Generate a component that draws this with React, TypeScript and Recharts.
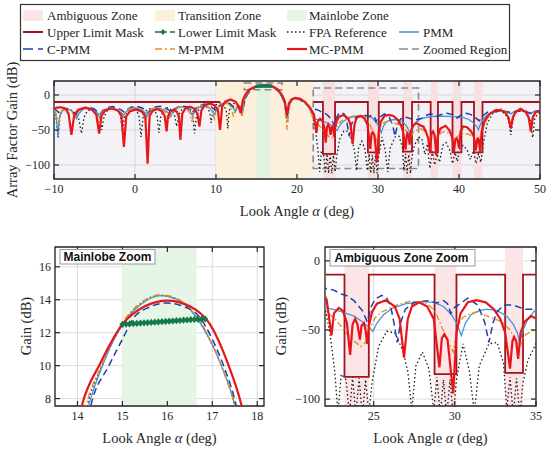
import React from 'react';
import { LineChart, Line, XAxis, YAxis, CartesianGrid, ReferenceArea } from 'recharts';

type P = [number, number | null];

// ---------------- axes ----------------
const mainXTicks = [-10, 0, 10, 20, 30, 40, 50];
const mainYTicks = [-100, -50, 0];
const mainXDomain: [number, number] = [-10, 50];
const mainYDomain: [number, number] = [-120, 20];

const lobeXTicks = [14, 15, 16, 17, 18];
const lobeYTicks = [8, 10, 12, 14, 16];
const lobeXDomain: [number, number] = [13.5, 18.15];
const lobeYDomain: [number, number] = [7.55, 17.2];

const ambXTicks = [25, 30, 35];
const ambYTicks = [-100, -50, 0];
const ambXDomain: [number, number] = [22, 35];
const ambYDomain: [number, number] = [-105, 10];

// ---------------- zones ----------------
const transitionZone: [number, number] = [10, 22];
const mainlobeZone: [number, number] = [15, 16.65];
const ambiguousZones: [number, number][] = [
  [23.2, 24.7], [28.75, 30.1], [33.1, 34.2], [36.5, 37.4], [39.2, 40.3], [41.85, 42.9],
];

// ---------------- series ----------------
const upperMask: P[] = [
  [-10, -10], [10.5, -10], [10.5, null], [22.05, null], [22.05, -10], [23.2, -10], [23.2, -84], [24.7, -84], [24.7, -10],
  [28.75, -10], [28.75, -82], [30.1, -82], [30.1, -10], [33.1, -10], [33.1, -81], [34.2, -81], [34.2, -10],
  [36.5, -10], [36.5, -82], [37.4, -82], [37.4, -10], [39.2, -10], [39.2, -82], [40.3, -82], [40.3, -10],
  [41.85, -10], [41.85, -82], [42.9, -82], [42.9, -10], [50, -10],
];

const lowerMask: P[] = [
  [15.0, 12.5], [15.08, 12.52], [15.16, 12.53], [15.24, 12.55], [15.32, 12.56], [15.4, 12.58], [15.48, 12.59],
  [15.56, 12.61], [15.64, 12.62], [15.72, 12.64], [15.8, 12.65], [15.88, 12.67], [15.96, 12.68], [16.04, 12.7],
  [16.12, 12.71], [16.2, 12.73], [16.28, 12.74], [16.36, 12.76], [16.44, 12.77], [16.52, 12.79], [16.6, 12.8],
  [16.68, 12.81], [16.76, 12.82], [16.84, 12.83],
];

const mcPmm: P[] = [
  [-10, -20], [-9.6, -18], [-9.1, -17.5], [-8.55, -19.5], [-8.2, -27], [-7.85, -57],
  [-7.5, -28], [-7.0, -21], [-6.15, -18], [-5.3, -21], [-4.78, -28], [-4.43, -55],
  [-4.12, -29], [-3.67, -22], [-2.9, -19], [-2.13, -22], [-1.68, -29], [-1.37, -74],
  [-1.08, -30.5], [-0.64, -23.5], [0.1, -20.5], [0.83, -23.5], [1.27, -30.5], [1.56, -98],
  [1.8, -30], [2.15, -23], [2.73, -20], [3.3, -23], [3.67, -30], [3.9, -52],
  [4.07, -31], [4.33, -24], [4.75, -21], [5.17, -24], [5.43, -31], [5.6, -64],
  [5.84, -26.7], [6.19, -19.7], [6.78, -16.7], [7.36, -19.7], [7.71, -26.7], [7.95, -45],
  [8.2, -22], [8.59, -15], [9.22, -12], [9.86, -15], [10.24, -22], [10.5, -50],
  [10.76, -16.5], [11.14, -9.5], [11.78, -6.5], [12.41, -9.5], [12.8, -16.5], [13.05, -26],
  [13.3, -8], [13.55, -1], [13.8, 3.5], [14.1, 7.6], [14.5, 10.1], [15.0, 12.5], [15.5, 13.6], [16.0, 13.95],
  [16.5, 13.6], [16.95, 12.5], [17.35, 10.1], [17.65, 7.6], [17.95, 3.5], [18.2, -1], [18.5, -9], [18.76, -28],
  [19.0, -12], [19.35, -6], [19.8, -4], [20.4, -5.5], [21.0, -10], [21.6, -18], [22.1, -28], [22.4, -54],
  [22.55, -38], [22.85, -34], [23.1, -36], [23.35, -45], [23.55, -68], [23.7, -46], [23.85, -42], [24.0, -46],
  [24.15, -57], [24.25, -47], [24.4, -45], [24.5, -50], [24.6, -60], [24.72, -46], [24.9, -37], [25.2, -31],
  [25.75, -28.5], [26.3, -33], [26.6, -42], [26.87, -70], [27.1, -42], [27.35, -33], [27.8, -30], [28.3, -33],
  [28.7, -42], [29.05, -77], [29.2, -56], [29.35, -53], [29.55, -57], [29.9, -96], [30.1, -52], [30.35, -38],
  [30.8, -30], [31.33, -28.5], [31.9, -30], [32.4, -35], [32.8, -42], [33.1, -52], [33.4, -78], [33.55, -58],
  [33.65, -55], [33.78, -58], [33.9, -71], [34.05, -52], [34.3, -44], [34.7, -40], [35.06, -42],
  [35.3, -44], [35.6, -45], [35.9, -52], [36.2, -62], [36.42, -83], [36.6, -55], [36.8, -52], [37.0, -58],
  [37.2, -86], [37.4, -58], [37.7, -48], [38.35, -44], [38.8, -50], [39.15, -60], [39.38, -81], [39.55, -63],
  [39.7, -62], [39.85, -65], [40.0, -76], [40.2, -52], [40.5, -45], [41.0, -46], [41.5, -52], [41.85, -60],
  [42.07, -79], [42.25, -63], [42.35, -62], [42.45, -64], [42.6, -81], [42.8, -52], [43.2, -36], [43.8, -27],
  [44.5, -22], [45.16, -21.5], [45.7, -25], [46.1, -32], [46.4, -48], [46.65, -32], [47.0, -24], [47.6, -20.5],
  [48.2, -24], [48.6, -32], [48.87, -52], [49.1, -32], [49.4, -25], [49.7, -23.5], [50, -24],
];

const pmm: P[] = [
  [-10, -22], [-9.75, -29], [-9.5, -58], [-9.3, -30], [-9.0, -22], [-8.5, -19.5], [-7.9, -22], [-7.5, -27],
  [-7.2, -34], [-6.9, -26], [-6.4, -20], [-5.7, -18.5], [-5.0, -21], [-4.6, -26], [-4.35, -33], [-4.05, -25],
  [-3.5, -20], [-2.9, -19], [-2.2, -21.5], [-1.7, -25], [-1.4, -29], [-1.1, -24], [-0.5, -19.5], [0.1, -18.5],
  [0.8, -21], [1.2, -25], [1.5, -30], [1.8, -24], [2.4, -19.5], [3.0, -19], [3.6, -21], [4.05, -25],
  [4.4, -31], [4.7, -24], [5.3, -18.5], [5.9, -17], [6.5, -19.5], [6.85, -24], [7.1, -30], [7.4, -23],
  [7.9, -17.5], [8.5, -16], [9.1, -18], [9.5, -22], [9.8, -28], [10.1, -21], [10.6, -15], [11.2, -11],
  [11.7, -12], [12.1, -18], [12.4, -24], [12.7, -17], [13.0, -18], [13.25, -28], [13.5, -8], [13.75, 0],
  [14.0, 4.5], [14.25, 7.6], [14.5, 9.6], [15.0, 12.5], [15.4, 13.7], [15.85, 14.25], [16.3, 13.9], [16.75, 12.5],
  [17.2, 10.0], [17.5, 7.6], [17.8, 3.5], [18.1, -2], [18.45, -12], [18.8, -35], [19.1, -13], [19.4, -7],
  [19.85, -4.5], [20.4, -6], [21.0, -11], [21.5, -18], [21.85, -26], [22.0, -33.5], [22.3, -34.5], [22.8, -36],
  [23.3, -38], [23.8, -40], [24.3, -44], [24.7, -48], [24.95, -51], [25.2, -45], [25.6, -39], [26.2, -34],
  [27.0, -31], [28.0, -29.5], [28.7, -30], [29.3, -33], [29.8, -39], [30.15, -46], [30.4, -54], [30.65, -45],
  [31.0, -39], [31.5, -36], [32.0, -35], [32.6, -36], [33.2, -40], [33.6, -46], [33.85, -52], [34.0, -59],
  [34.2, -50], [34.5, -42], [35.0, -35], [35.5, -33], [36.5, -31], [37.5, -30], [38.5, -30.5], [39.5, -31],
  [40.5, -32], [41.2, -35], [41.8, -40], [42.2, -45], [42.4, -50], [42.6, -43], [42.9, -36], [43.5, -28],
  [44.3, -24], [45.2, -22], [45.9, -24], [46.4, -27], [46.9, -23], [47.7, -21.5], [48.3, -23], [48.8, -27],
  [49.3, -23], [50, -22],
];

const cPmm: P[] = [
  [-10, -20], [-9.7, -22], [-9.4, -25], [-9.1, -21], [-8.7, -19], [-8.2, -20.5], [-7.7, -24], [-7.3, -28],
  [-6.95, -23], [-6.5, -19.5], [-5.8, -17], [-5.1, -19.5], [-4.65, -23], [-4.3, -27], [-3.95, -22], [-3.4, -18],
  [-2.8, -16.5], [-2.1, -19], [-1.6, -22], [-1.3, -25], [-1.0, -21], [-0.5, -17.5], [0.2, -16], [0.9, -18.5],
  [1.3, -22], [1.6, -26], [1.9, -21], [2.5, -17], [3.1, -16], [3.7, -18], [4.15, -21.5], [4.5, -25],
  [4.85, -20], [5.3, -17], [5.9, -15.5], [6.5, -17.5], [6.9, -21], [7.2, -24], [7.5, -19], [8.0, -15],
  [8.6, -13], [9.2, -15], [9.6, -18.5], [9.9, -22], [10.2, -17], [10.7, -13], [11.2, -11], [11.7, -12.5],
  [12.1, -16], [12.4, -20], [12.7, -16], [13.0, -17], [13.3, -22], [13.6, -6], [13.9, 1], [14.3, 7.6],
  [14.7, 10.0], [15.0, 11.6], [15.25, 12.9], [15.6, 13.55], [15.97, 13.8], [16.35, 13.6], [16.7, 13.0], [17.0, 11.6],
  [17.25, 10.0], [17.53, 7.6], [17.85, 3], [18.15, -2], [18.45, -10], [18.75, -30], [19.05, -12], [19.4, -6.5],
  [19.85, -5], [20.4, -7], [21.0, -12], [21.5, -17], [21.8, -20], [22.0, -19.9], [22.5, -21], [23.0, -24],
  [23.35, -25.2], [23.8, -29], [24.3, -36], [24.6, -44], [24.85, -33], [25.1, -27.6], [25.5, -25], [25.8, -27],
  [26.05, -33], [26.25, -45], [26.45, -59], [26.65, -45], [26.95, -35], [27.5, -30], [28.3, -28.8], [28.9, -30.5],
  [29.3, -28.8], [29.55, -31], [29.75, -38], [29.95, -34], [30.2, -32], [30.8, -27], [31.4, -32], [31.7, -40],
  [31.85, -45], [32.1, -59], [32.35, -45], [32.6, -37], [33.0, -32], [33.6, -32], [34.3, -35], [35.0, -35],
  [35.5, -33], [36.0, -29], [36.5, -27], [36.9, -28], [37.3, -31], [37.7, -28], [38.5, -26], [39.2, -28],
  [39.8, -33], [40.3, -28], [40.9, -26], [41.5, -28], [42.1, -33], [42.5, -37], [42.9, -30], [43.5, -24.5],
  [44.5, -23.5], [45.5, -23], [46.4, -25], [47.3, -23], [48.2, -24], [48.9, -26], [49.5, -23.5], [50, -23],
];

const mPmm: P[] = [
  [-10, -21], [-9.75, -26], [-9.45, -40], [-9.2, -27], [-8.8, -20.5], [-8.3, -20], [-7.8, -23.5], [-7.45, -32],
  [-7.1, -25], [-6.6, -19.5], [-6.0, -18], [-5.3, -21], [-4.8, -27], [-4.5, -38], [-4.2, -27], [-3.7, -20],
  [-3.1, -18], [-2.4, -20.5], [-1.85, -25], [-1.5, -32], [-1.2, -25], [-0.7, -19.5], [-0.1, -18], [0.6, -21],
  [1.05, -27], [1.3, -36], [1.55, -26], [2.1, -19.5], [2.7, -18], [3.4, -21], [3.85, -26], [4.2, -34],
  [4.5, -25], [5.0, -19], [5.6, -16.5], [6.3, -19], [6.75, -25], [7.0, -38], [7.3, -24], [7.8, -17],
  [8.4, -14], [9.0, -16.5], [9.5, -23], [9.8, -34], [10.1, -21], [10.6, -13.5], [11.1, -11], [11.6, -13.5],
  [11.95, -21], [12.15, -31], [12.4, -20], [12.8, -14], [13.0, -16], [13.2, -30], [13.45, -10], [13.7, -1],
  [13.95, 3.5], [14.2, 7.6], [14.5, 9.8], [15.0, 12.6], [15.4, 13.8], [15.85, 14.3], [16.3, 13.95], [16.75, 12.6],
  [17.2, 10.0], [17.5, 7.6], [17.85, 3], [18.15, -2], [18.45, -11], [18.76, -50], [19.05, -14], [19.4, -7],
  [19.85, -4.5], [20.4, -6], [21.0, -11], [21.5, -19], [21.8, -27], [22.1, -37], [22.7, -43], [23.3, -52],
  [23.9, -59], [24.2, -62], [24.5, -59], [24.8, -48], [25.1, -41], [25.5, -37], [26.4, -32], [27.2, -29.3],
  [28.1, -30], [28.5, -33], [28.8, -37], [29.2, -48], [29.6, -59], [29.9, -66], [30.2, -47], [30.5, -41],
  [30.8, -39], [31.3, -37], [32.0, -40], [32.9, -44], [33.4, -50], [33.8, -59], [34.0, -62], [34.3, -54],
  [34.7, -51], [35.0, -49.5], [35.3, -48], [35.8, -52], [36.1, -57], [36.35, -62], [36.6, -56], [36.9, -55],
  [37.1, -59], [37.3, -66], [37.55, -57], [37.9, -53], [38.4, -52], [38.9, -56], [39.2, -60], [39.4, -68],
  [39.65, -61], [40.0, -58], [40.5, -55], [41.2, -56], [41.8, -61], [42.1, -64], [42.3, -68], [42.6, -60],
  [42.9, -50], [43.2, -40], [43.8, -28], [44.5, -21], [45.2, -19.5], [45.8, -24], [46.15, -31], [46.4, -45],
  [46.65, -31], [47.0, -23], [47.6, -18.5], [48.2, -22], [48.6, -30], [48.9, -55], [49.15, -32], [49.5, -25],
  [50, -24],
];

const fpaRef: P[] = [
  [-10, -22], [-9.8, -27], [-9.5, -61], [-9.25, -29], [-8.9, -22], [-8.4, -20], [-7.8, -22], [-7.3, -27],
  [-6.95, -34], [-6.6, -55], [-6.3, -32], [-5.9, -23], [-5.3, -19.5], [-4.8, -23], [-4.4, -31], [-4.1, -50],
  [-3.8, -30], [-3.4, -22], [-2.8, -19], [-2.2, -21.5], [-1.8, -29], [-1.55, -52], [-1.3, -30], [-0.9, -22],
  [-0.3, -19], [0.2, -22], [0.5, -31], [0.75, -60], [1.0, -31], [1.4, -22], [2.0, -19], [2.45, -22.5],
  [2.75, -31], [2.95, -54], [3.2, -30], [3.6, -21], [4.1, -18], [4.6, -22], [4.9, -30], [5.15, -45],
  [5.4, -29], [5.8, -20], [6.4, -16], [6.85, -21], [7.15, -30], [7.35, -55], [7.6, -28], [8.0, -18],
  [8.6, -14], [9.0, -18.5], [9.25, -26], [9.4, -40], [9.6, -24], [10.0, -14], [10.6, -10.5], [11.0, -15],
  [11.3, -25], [11.45, -48], [11.65, -22], [12.0, -13], [12.5, -11], [12.9, -17], [13.2, -30], [13.45, -10],
  [13.7, -1], [13.95, 3.5], [14.22, 7.6], [14.5, 9.7], [15.0, 12.5], [15.4, 13.75], [15.85, 14.25], [16.3, 13.9],
  [16.75, 12.5], [17.2, 10.0], [17.5, 7.6], [17.85, 3], [18.15, -2], [18.45, -11], [18.8, -40], [19.1, -13],
  [19.4, -7], [19.85, -4.5], [20.4, -6], [21.0, -11], [21.5, -18], [21.8, -26], [22.0, -34], [22.3, -52],
  [22.6, -80], [22.8, -110], [23.0, -82], [23.3, -86], [23.5, -112], [23.7, -84], [23.9, -112], [24.1, -85],
  [24.3, -112], [24.5, -86], [24.7, -110], [24.9, -88], [25.3, -62], [25.8, -51], [26.3, -52], [26.8, -65],
  [27.1, -80], [27.35, -108], [27.6, -76], [28.0, -66], [28.4, -78], [28.7, -108], [28.9, -84], [29.1, -112],
  [29.3, -86], [29.5, -112], [29.7, -86], [29.9, -112], [30.1, -86], [30.5, -60], [30.9, -80], [31.2, -110],
  [31.5, -76], [32.1, -60], [32.6, -59], [33.0, -74], [33.2, -108], [33.4, -84], [33.6, -112], [33.8, -85],
  [34.0, -112], [34.2, -88], [34.5, -72], [35.0, -60], [35.4, -62], [35.8, -85], [36.1, -70], [36.4, -105],
  [36.7, -80], [37.0, -100], [37.3, -84], [37.6, -96], [38.0, -72], [38.4, -68], [38.9, -80], [39.2, -98],
  [39.5, -82], [39.8, -95], [40.1, -76], [40.5, -72], [41.0, -78], [41.4, -92], [41.8, -80], [42.1, -98],
  [42.4, -84], [42.7, -96], [43.0, -70], [43.5, -40], [44.2, -26], [45.0, -22], [45.7, -27], [46.1, -35],
  [46.4, -57], [46.7, -33], [47.0, -25], [47.6, -21], [48.3, -26], [48.8, -36], [49.1, -61], [49.35, -34],
  [49.7, -27], [50, -25],
];

// ---------------- helpers ----------------
const rows = (pts: P[]) => pts.map(([x, y]) => ({ x, y }));
const SERIF = "'Liberation Serif', 'Times New Roman', serif";
const SANS = "'Liberation Sans', Arial, sans-serif";
const INK = '#262626';
const fmt = (v: number) => (v < 0 ? '\u2212' + Math.abs(v) : String(v));

const C = {
  mask: '#a3141e',
  lower: '#13784a',
  fpa: '#1a1a1a',
  pmm: '#4595d8',
  cpmm: '#1f3fa6',
  mpmm: '#e88d1e',
  mc: '#e8161b',
  zoom: '#8a8a8a',
  bg: '#f3f3f7',
  trans: '#fcf0dc',
  lobe: '#e2f2e1',
  amb: '#f8dfe1',
  ambLight: '#fbe5e6',
  lobeLight: '#e7f5e6',
};

function makeXTick(top: number, dy: number) {
  return (props: any) => {
    const { x, y, payload } = props;
    return (
      <g>
        <line x1={x} x2={x} y1={y} y2={y - 5} stroke={INK} strokeWidth={1.2} />
        <line x1={x} x2={x} y1={top} y2={top + 5} stroke={INK} strokeWidth={1.2} />
        <text x={x} y={y + dy} textAnchor="middle" fontFamily={SERIF} fontSize={12} fill={INK}>
          {fmt(payload.value)}
        </text>
      </g>
    );
  };
}

function makeYTick(right: number, dx: number) {
  return (props: any) => {
    const { x, y, payload } = props;
    return (
      <g>
        <line x1={x} x2={x + 5} y1={y} y2={y} stroke={INK} strokeWidth={1.2} />
        <line x1={right} x2={right - 5} y1={y} y2={y} stroke={INK} strokeWidth={1.2} />
        <text x={x - dx} y={y + 4} textAnchor="end" fontFamily={SERIF} fontSize={12} fill={INK}>
          {fmt(payload.value)}
        </text>
      </g>
    );
  };
}

function makeDiamond(r: number) {
  return (props: any) => {
    const { cx, cy, index } = props;
    if (cx == null || cy == null) return <g key={'d' + index} />;
    return (
      <polygon
        key={'d' + index}
        points={`${cx},${cy - r} ${cx + r * 0.85},${cy} ${cx},${cy + r} ${cx - r * 0.85},${cy}`}
        fill={C.lower}
      />
    );
  };
}

function seriesLines(curve: 'linear' | 'monotone', diamond: number) {
  const base = { dataKey: 'y', dot: false as const, activeDot: false as const, isAnimationActive: false, type: curve };
  return [
    <Line key="fpa" {...base} data={rows(fpaRef)} stroke={C.fpa} strokeWidth={1.3} strokeDasharray="1.5 2.5" />,
    <Line key="mask" {...base} type="linear" data={rows(upperMask)} stroke={C.mask} strokeWidth={1.8} />,
    <Line key="pmm" {...base} data={rows(pmm)} stroke={C.pmm} strokeWidth={1.3} />,
    <Line key="cpmm" {...base} data={rows(cPmm)} stroke={C.cpmm} strokeWidth={1.5} strokeDasharray="7 4" />,
    <Line key="mpmm" {...base} data={rows(mPmm)} stroke={C.mpmm} strokeWidth={1.4} strokeDasharray="6 2.5 1.5 2.5" />,
    <Line key="lower" {...base} type="linear" data={rows(lowerMask)} stroke={C.lower} strokeWidth={1.5} strokeDasharray="6 3" dot={makeDiamond(diamond)} />,
    <Line key="mc" {...base} data={rows(mcPmm)} stroke={C.mc} strokeWidth={2.2} />,
  ];
}

export default function App() {
  return (
    <div style={{ position: 'absolute', left: 0, top: 0, width: 550, height: 450, background: '#fff' }}>
      {/* Top: full pattern */}
      <div style={{ position: 'absolute', left: 0, top: 0 }}>
        <LineChart width={550} height={230} margin={{ top: 81, right: 10, bottom: 0, left: 0 }}>
          <CartesianGrid stroke="#d8d8dc" fill={C.bg} />
          <XAxis dataKey="x" type="number" domain={mainXDomain} ticks={mainXTicks} allowDataOverflow interval={0}
            height={51} axisLine={false} tickLine={false} tickSize={0} tickMargin={0} tick={makeXTick(81, 13.5)} />
          <YAxis type="number" domain={mainYDomain} ticks={mainYTicks} allowDataOverflow interval={0}
            width={54} axisLine={false} tickLine={false} tickSize={0} tickMargin={0} tick={makeYTick(540, 4)} />
          <ReferenceArea x1={transitionZone[0]} x2={transitionZone[1]} fill={C.trans} fillOpacity={1} stroke="none" />
          <ReferenceArea x1={mainlobeZone[0]} x2={mainlobeZone[1]} fill={C.lobe} fillOpacity={1} stroke="none" />
          {ambiguousZones.map(([a, b], i) => (
            <ReferenceArea key={'az' + i} x1={a} x2={b} fill={C.amb} fillOpacity={1} stroke="none" />
          ))}
          {seriesLines('linear', 1.9)}
          <ReferenceArea x1={lobeXDomain[0]} x2={lobeXDomain[1]} y1={lobeYDomain[0]} y2={lobeYDomain[1]}
            fill="none" stroke={C.zoom} strokeWidth={1.6} strokeDasharray="7 4" />
          <ReferenceArea x1={ambXDomain[0]} x2={ambXDomain[1]} y1={ambYDomain[0]} y2={ambYDomain[1]}
            fill="none" stroke={C.zoom} strokeWidth={1.6} strokeDasharray="7 4" />
          <ReferenceArea x1={mainXDomain[0]} x2={mainXDomain[1]} y1={mainYDomain[0]} y2={mainYDomain[1]}
            fill="none" stroke={INK} strokeWidth={1.3} />
        </LineChart>
      </div>

      {/* Bottom left: mainlobe zoom */}
      <div style={{ position: 'absolute', left: 0, top: 230 }}>
        <LineChart width={275} height={220} margin={{ top: 17, right: 11, bottom: 0, left: 0 }}>
          <CartesianGrid stroke="#dcdcdc" />
          <XAxis dataKey="x" type="number" domain={lobeXDomain} ticks={lobeXTicks} allowDataOverflow interval={0}
            height={44} axisLine={false} tickLine={false} tickSize={0} tickMargin={0} tick={makeXTick(17, 14)} />
          <YAxis type="number" domain={lobeYDomain} ticks={lobeYTicks} allowDataOverflow interval={0}
            width={55} axisLine={false} tickLine={false} tickSize={0} tickMargin={0} tick={makeYTick(264, 4)} />
          <ReferenceArea x1={mainlobeZone[0]} x2={mainlobeZone[1]} fill={C.lobeLight} fillOpacity={1} stroke="none" />
          {seriesLines('monotone', 3.6)}
          <ReferenceArea x1={lobeXDomain[0]} x2={lobeXDomain[1]} y1={lobeYDomain[0]} y2={lobeYDomain[1]}
            fill="none" stroke={INK} strokeWidth={1.3} />
        </LineChart>
      </div>

      {/* Bottom right: ambiguous zone zoom */}
      <div style={{ position: 'absolute', left: 275, top: 230 }}>
        <LineChart width={275} height={220} margin={{ top: 17, right: 14, bottom: 0, left: 0 }}>
          <CartesianGrid stroke="#dcdcdc" />
          <XAxis dataKey="x" type="number" domain={ambXDomain} ticks={ambXTicks} allowDataOverflow interval={0}
            height={44} axisLine={false} tickLine={false} tickSize={0} tickMargin={0} tick={makeXTick(17, 14)} />
          <YAxis type="number" domain={ambYDomain} ticks={ambYTicks} allowDataOverflow interval={0}
            width={50} axisLine={false} tickLine={false} tickSize={0} tickMargin={0} tick={makeYTick(261, 5)} />
          {ambiguousZones.filter(([a, b]) => a >= ambXDomain[0] && b <= ambXDomain[1]).map(([a, b], i) => (
            <ReferenceArea key={'bz' + i} x1={a} x2={b} fill={C.ambLight} fillOpacity={1} stroke="none" />
          ))}
          {seriesLines('linear', 3)}
          <ReferenceArea x1={ambXDomain[0]} x2={ambXDomain[1]} y1={ambYDomain[0]} y2={ambYDomain[1]}
            fill="none" stroke={INK} strokeWidth={1.3} />
        </LineChart>
      </div>

      {/* Overlay: legend, titles, labels */}
      <svg width={550} height={450} style={{ position: 'absolute', left: 0, top: 0, pointerEvents: 'none' }}>
        <g fontFamily={SERIF} fontSize={13} fill={INK}>
          <rect x={20.5} y={4.5} width={489} height={56} fill="#fff" stroke="#333" strokeWidth={1.2} />
          <rect x={23} y={10} width={20} height={11} fill={C.ambLight} />
          <text x={47} y={19.5}>Ambiguous Zone</text>
          <rect x={155} y={10} width={20} height={11} fill={C.trans} />
          <text x={178} y={19.5}>Transition Zone</text>
          <rect x={287} y={10} width={20} height={11} fill={C.lobeLight} />
          <text x={309} y={19.5}>Mainlobe Zone</text>

          <line x1={23} x2={43} y1={32} y2={32} stroke={C.mask} strokeWidth={2} />
          <text x={47} y={36.5}>Upper Limit Mask</text>
          <line x1={155} x2={175} y1={32} y2={32} stroke={C.lower} strokeWidth={1.6} strokeDasharray="12 3" />
          <polygon points="163,29 165.6,32 163,35 160.4,32" fill={C.lower} />
          <text x={178} y={36.5}>Lower Limit Mask</text>
          <line x1={287} x2={307} y1={32} y2={32} stroke={C.fpa} strokeWidth={1.4} strokeDasharray="1.5 2.5" />
          <text x={309} y={36.5}>FPA Reference</text>
          <line x1={399} x2={419} y1={32} y2={32} stroke={C.pmm} strokeWidth={1.5} />
          <text x={423} y={36.5}>PMM</text>

          <line x1={23} x2={43} y1={49} y2={49} stroke={C.cpmm} strokeWidth={1.6} strokeDasharray="10 5" />
          <text x={47} y={53.5}>C-PMM</text>
          <line x1={155} x2={175} y1={49} y2={49} stroke={C.mpmm} strokeWidth={1.5} strokeDasharray="7 3 2 3" />
          <text x={178} y={53.5}>M-PMM</text>
          <line x1={287} x2={307} y1={49} y2={49} stroke={C.mc} strokeWidth={2.2} />
          <text x={309} y={53.5}>MC-PMM</text>
          <line x1={399} x2={419} y1={49} y2={49} stroke={C.zoom} strokeWidth={1.6} strokeDasharray="9 4" />
          <text x={423} y={53.5}>Zoomed Region</text>
        </g>

        <g fontFamily={SERIF} fontSize={14.5} fill={INK} textAnchor="middle">
          <text x={297} y={216}>Look Angle <tspan fontStyle="italic">α</tspan> (deg)</text>
          <text x={17} y={130} transform="rotate(-90 17 130)">Array Factor Gain (dB)</text>
          <text x={159.5} y={443}>Look Angle <tspan fontStyle="italic">α</tspan> (deg)</text>
          <text x={430.5} y={443}>Look Angle <tspan fontStyle="italic">α</tspan> (deg)</text>
          <text x={31} y={326} transform="rotate(-90 31 326)">Gain (dB)</text>
          <text x={286} y={326} transform="rotate(-90 286 326)">Gain (dB)</text>
        </g>

        <g fontFamily={SANS} fontSize={12} fontWeight="bold" fill="#111">
          <rect x={60} y={249.5} width={95} height={14.5} fill="#fff" stroke="#9a9a9a" strokeWidth={1} />
          <text x={63.5} y={261.3}>Mainlobe Zoom</text>
          <rect x={330} y={249.5} width={145} height={16.5} fill="#fff" stroke="#9a9a9a" strokeWidth={1} />
          <text x={334.5} y={262}>Ambiguous Zone Zoom</text>
        </g>
      </svg>
    </div>
  );
}
